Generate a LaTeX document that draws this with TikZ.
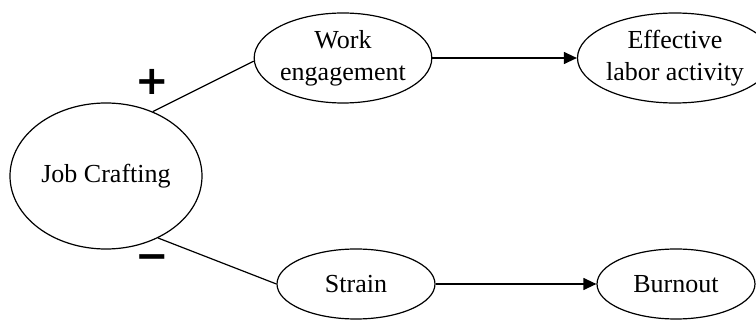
\documentclass[tikz,border=0pt]{standalone}
\usepackage{fontspec}
\setmainfont{Liberation Serif}
\newfontfamily\signfont{DejaVu Sans}
\usetikzlibrary{shapes.geometric,arrows.meta}
\begin{document}
\begin{tikzpicture}[x=0.5pt,y=-0.5pt,
  concept/.style={ellipse,draw,line width=0.6pt,inner sep=0pt,align=center,
    font=\fontsize{13pt}{16pt}\selectfont},
  link/.style={line width=0.6pt},
  flow/.style={line width=0.6pt,-{Triangle[length=6.5pt,width=6pt]}},
  sign/.style={inner sep=0pt,font=\signfont\bfseries\fontsize{20pt}{20pt}\selectfont}]
\useasboundingbox (0,0) rectangle (756,320);
% constructs
\node[concept,minimum width=96pt,minimum height=73pt] (jc) at (106,176) {Job Crafting};
\node[concept,minimum width=85pt,minimum height=45pt] (we) at (343,58) {Work\\engagement};
\node[concept,minimum width=80pt,minimum height=45pt] (ela) at (675,58) {Effective\\labor activity};
\node[concept,minimum width=79pt,minimum height=35pt] (st) at (356,284) {Strain};
\node[concept,minimum width=79pt,minimum height=35pt] (bo) at (676,284) {Burnout};
% relations
\draw[link] (jc.54) -- (we.182);
\draw[link] (jc.-50) -- (st.west);
\draw[flow] (we.east) -- (ela.west);
\draw[flow] (st.east) -- (bo.west);
% signs of the effects
\node[sign] (plus) at (152,82) {+};
\node[sign] (minus) at (152,262) {−};
\end{tikzpicture}
\end{document}
